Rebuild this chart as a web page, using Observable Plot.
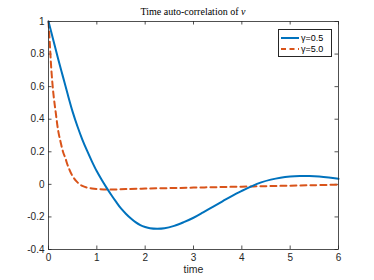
<!DOCTYPE html>
<html><head><meta charset="utf-8">
<script src="https://cdn.jsdelivr.net/npm/d3@7"></script>
<script src="https://cdn.jsdelivr.net/npm/@observablehq/plot@0.6"></script>
<style>
body{margin:0;background:#fff;}
#wrap{position:relative;width:374px;height:280px;overflow:hidden;}
#title{position:absolute;left:48px;width:290px;top:6px;text-align:center;font:10px "Liberation Serif","DejaVu Serif",serif;color:#000;white-space:nowrap;}
#legend{position:absolute;left:278px;top:29px;width:52px;border:0.8px solid #262626;background:#fff;font:9px "Liberation Sans",Arial,sans-serif;color:#000;padding:2px 0;}
#legend .row{display:flex;align-items:center;height:11px;}
#legend svg{margin-left:2px;margin-right:2px;}
</style></head><body><div id="wrap"></div>
<script>
const chartTitle = "Time auto-correlation of ";
const titleVar = "v";
const xLabel = "time";
const seriesNames = ["γ=0.5", "γ=5.0"];
const seriesColors = ["#0072BD", "#D95319"];
const xTicks = [0, 1, 2, 3, 4, 5, 6];
const yTicks = [-0.4, -0.2, 0, 0.2, 0.4, 0.6, 0.8, 1];

const timeA = [0, 0.1, 0.2, 0.3, 0.4, 0.5, 0.6, 0.7, 0.8, 0.9, 1.0, 1.1, 1.2, 1.3, 1.4, 1.5, 1.6, 1.7, 1.8, 1.9, 2.0, 2.1, 2.25, 2.4, 2.6, 2.8, 3.0, 3.2, 3.4, 3.6, 3.8, 4.0, 4.2, 4.4, 4.6, 4.8, 5.0, 5.2, 5.4, 5.6, 5.8, 6.0];
const acfA = [1.0, 0.885, 0.77, 0.66, 0.55, 0.445, 0.355, 0.275, 0.205, 0.14, 0.08, 0.028, -0.02, -0.065, -0.108, -0.148, -0.18, -0.208, -0.232, -0.25, -0.262, -0.27, -0.273, -0.27, -0.255, -0.232, -0.205, -0.172, -0.138, -0.104, -0.07, -0.04, -0.012, 0.012, 0.029, 0.041, 0.048, 0.051, 0.051, 0.048, 0.042, 0.034];

const timeB = [0, 0.03, 0.06, 0.1, 0.15, 0.2, 0.25, 0.3, 0.35, 0.4, 0.5, 0.6, 0.7, 0.8, 0.9, 1.0, 1.2, 1.4, 1.6, 2.0, 2.5, 3.0, 3.5, 4.0, 4.5, 5.0, 5.5, 6.0];
const acfB = [1.0, 0.85, 0.7, 0.56, 0.44, 0.33, 0.26, 0.2, 0.16, 0.115, 0.05, 0.012, -0.01, -0.02, -0.025, -0.028, -0.031, -0.031, -0.029, -0.026, -0.023, -0.02, -0.017, -0.014, -0.011, -0.008, -0.005, -0.002];

const dataA = timeA.map((t, i) => ({t, v: acfA[i]}));
const dataB = timeB.map((t, i) => ({t, v: acfB[i]}));

const W = 374, H = 280, mL = 48, mR = 36, mT = 21, mB = 31;
const pw = W - mL - mR, ph = H - mT - mB;
const axisColor = "#262626";
const tk = 3.5;
const fmt = d => String(d);

const chart = Plot.plot({
  width: W, height: H,
  marginLeft: mL, marginRight: mR, marginTop: mT, marginBottom: mB,
  x: {domain: [0, 6]},
  y: {domain: [-0.4, 1]},
  style: {fontFamily: "'Liberation Sans', Arial, sans-serif", fontSize: "10px", color: axisColor, background: "#fff"},
  marks: [
    Plot.axisX(xTicks, {tickSize: 0, tickPadding: 4, tickFormat: fmt, label: null, fill: axisColor}),
    Plot.axisY(yTicks, {tickSize: 0, tickPadding: 4, tickFormat: fmt, label: null, fill: axisColor}),
    Plot.tickX(xTicks, {x: d => d, insetTop: ph - tk, stroke: axisColor, strokeWidth: 0.8}),
    Plot.tickX(xTicks, {x: d => d, insetBottom: ph - tk, stroke: axisColor, strokeWidth: 0.8}),
    Plot.tickY(yTicks, {y: d => d, insetRight: pw - tk, stroke: axisColor, strokeWidth: 0.8}),
    Plot.tickY(yTicks, {y: d => d, insetLeft: pw - tk, stroke: axisColor, strokeWidth: 0.8}),
    Plot.line(dataB, {x: "t", y: "v", stroke: seriesColors[1], strokeWidth: 2, strokeDasharray: "6,4", curve: "catmull-rom"}),
    Plot.line(dataA, {x: "t", y: "v", stroke: seriesColors[0], strokeWidth: 2, curve: "catmull-rom"}),
    Plot.frame({stroke: axisColor, strokeWidth: 0.8}),
    Plot.text([xLabel], {text: d => d, frameAnchor: "bottom", dy: 23, fontSize: 10.5, fill: axisColor})
  ]
});

const wrap = document.getElementById("wrap");
wrap.appendChild(chart);

const title = document.createElement("div");
title.id = "title";
title.append(chartTitle);
const it = document.createElement("i");
it.textContent = titleVar;
title.append(it);
wrap.appendChild(title);

const legend = document.createElement("div");
legend.id = "legend";
seriesNames.forEach((name, i) => {
  const row = document.createElement("div");
  row.className = "row";
  const ns = "http://www.w3.org/2000/svg";
  const s = document.createElementNS(ns, "svg");
  s.setAttribute("width", 18); s.setAttribute("height", 6);
  const l = document.createElementNS(ns, "line");
  l.setAttribute("x1", 0); l.setAttribute("x2", 18);
  l.setAttribute("y1", 3); l.setAttribute("y2", 3);
  l.setAttribute("stroke", seriesColors[i]);
  l.setAttribute("stroke-width", 2);
  if (i === 1) l.setAttribute("stroke-dasharray", "5,3.5");
  s.appendChild(l);
  row.appendChild(s);
  const tx = document.createElement("span");
  tx.textContent = name;
  row.appendChild(tx);
  legend.appendChild(row);
});
wrap.appendChild(legend);
</script>
</body></html>
